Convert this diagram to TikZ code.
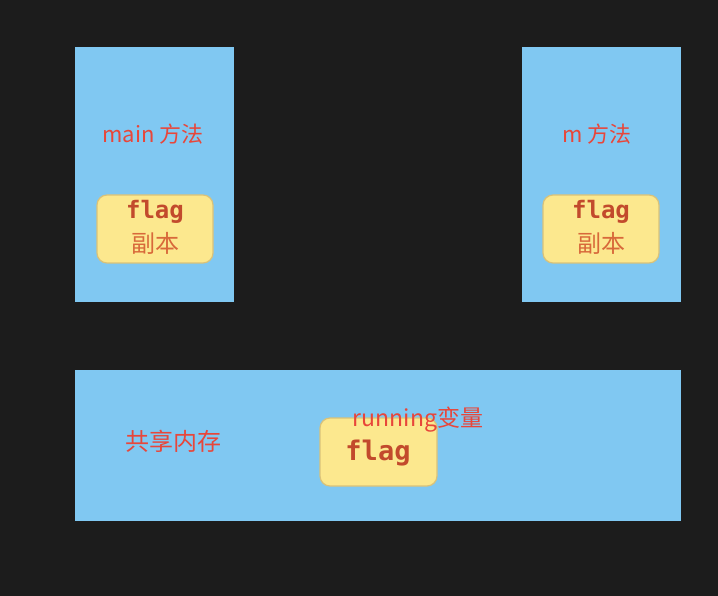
\documentclass[tikz,border=0pt]{standalone}
\usepackage{fontspec}
\newfontfamily\cjk{Noto Sans CJK SC}
\newfontfamily\codefont{DejaVu Sans Mono}
\definecolor{board}{HTML}{1C1C1C}
\definecolor{paneblue}{HTML}{80C8F2}
\definecolor{notefill}{HTML}{FCE88E}
\definecolor{noteedge}{HTML}{D9C27A}
\definecolor{labelred}{HTML}{E8463A}
\definecolor{flagred}{HTML}{C24A2C}
\definecolor{copyred}{HTML}{D8693A}

\begin{document}
\begin{tikzpicture}[x=1pt,y=-1pt,
		pane/.style={fill=paneblue,inner sep=0pt,anchor=north west},
		note/.style={fill=notefill,draw=noteedge,line width=1.2pt,rounded corners=10pt,minimum width=116pt,minimum height=68pt,inner sep=0pt},
		tag/.style={text=labelred,inner sep=0pt,font=\cjk\fontsize{22}{22}\selectfont},
		flagtext/.style={text=flagred,inner sep=0pt,font=\codefont\bfseries\fontsize{24}{24}\selectfont},
		copytext/.style={text=copyred,inner sep=0pt,font=\cjk\fontsize{24}{24}\selectfont}]
		\fill [board] (0, 0) rectangle (718, 596);
		\useasboundingbox (0, 0) rectangle (718, 596);
		% threads
		\node [pane,minimum width=159pt,minimum height=255pt] (mainpane) at (75, 47) {};
		\node [pane,minimum width=159pt,minimum height=255pt] (mpane) at (522, 47) {};
		\node [tag] (mainname) at (153, 134) {main 方法};
		\node [tag] (mname) at (597, 134) {m 方法};
		\node [note] (mainnote) at (155, 229) {};
		\node [flagtext] (mainflag) at (155, 212) {flag};
		\node [copytext] (maincopy) at (155, 243) {副本};
		\node [note] (mnote) at (601, 229) {};
		\node [flagtext] (mflag) at (601, 212) {flag};
		\node [copytext] (mcopy) at (601, 243) {副本};
		% shared memory
		\node [pane,minimum width=606pt,minimum height=151pt] (sharedpane) at (75, 370) {};
		\node [tag,font=\cjk\fontsize{24}{24}\selectfont] (sharedname) at (173, 441) {共享内存};
		\node [note,minimum width=117pt] (sharednote) at (378.5, 452) {};
		\node [flagtext,font=\codefont\bfseries\fontsize{27}{27}\selectfont] (sharedflag) at (378, 453) {flag};
		\node [tag,font=\cjk\fontsize{23}{23}\selectfont] (runningname) at (418, 420) {running变量};
	\end{tikzpicture}
\end{document}
